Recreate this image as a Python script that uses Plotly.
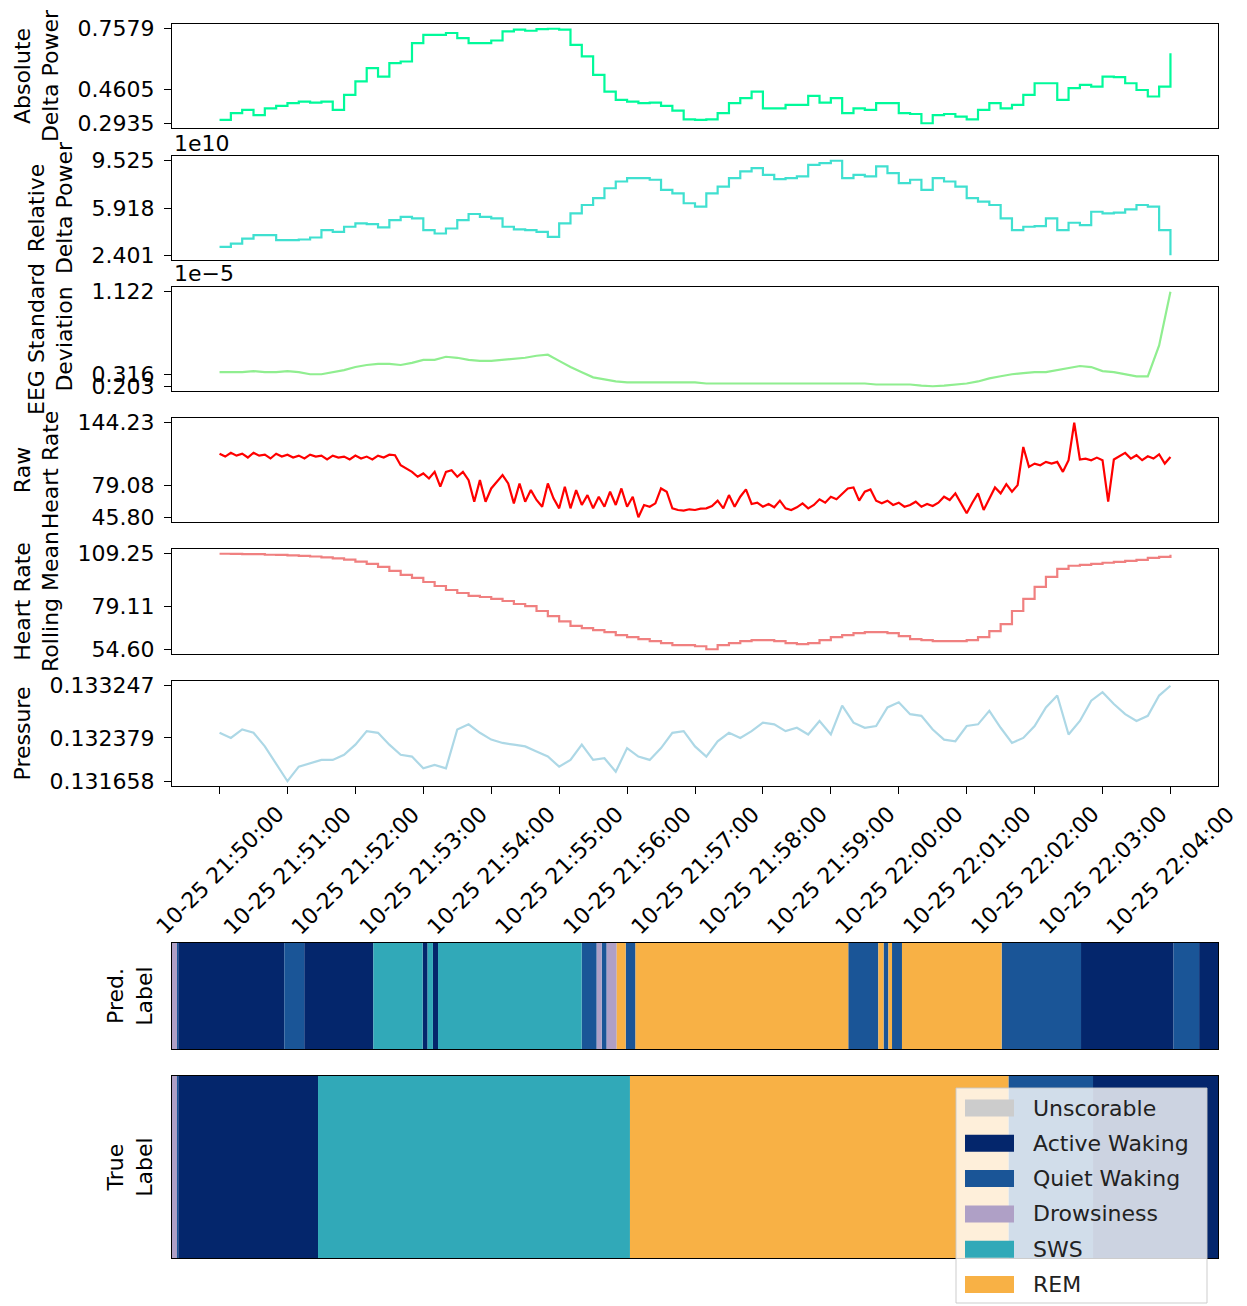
import pandas as pd
import plotly.graph_objects as go

# page body adds an 8px offset; figure is sized so that it ends at the window edge
OFF = 8
W, H = 1247 - OFF, 1306 - OFF
FONT = "DejaVu Sans"
FS = 22

# ---------------- data ----------------
t0 = pd.Timestamp("2023-10-25 21:50:00")
t10 = pd.date_range(t0, periods=85, freq="10s")
t5 = pd.date_range(t0, periods=169, freq="5s")

abs_delta = [0.310, 0.343, 0.359, 0.334, 0.367, 0.379, 0.392, 0.400, 0.395, 0.400,
             0.359, 0.433, 0.499, 0.564, 0.523, 0.589, 0.597, 0.687, 0.728, 0.728,
             0.737, 0.712, 0.687, 0.687, 0.700, 0.745, 0.753, 0.748, 0.756, 0.7579,
             0.753, 0.679, 0.622, 0.531, 0.449, 0.408, 0.400, 0.392, 0.395, 0.379,
             0.356, 0.313, 0.310, 0.313, 0.343, 0.392, 0.417, 0.449, 0.367, 0.367,
             0.384, 0.384, 0.428, 0.395, 0.417, 0.343, 0.367, 0.359, 0.392, 0.392,
             0.343, 0.339, 0.2935, 0.334, 0.339, 0.326, 0.313, 0.359, 0.392, 0.367,
             0.384, 0.433, 0.490, 0.490, 0.408, 0.466, 0.482, 0.474, 0.523, 0.520,
             0.490, 0.457, 0.425, 0.474, 0.638]

rel_delta_1e10 = [3.03, 3.28, 3.66, 3.92, 3.92, 3.54, 3.54, 3.59, 3.74, 4.30,
                  4.17, 4.55, 4.80, 4.75, 4.50, 5.05, 5.30, 5.18, 4.30, 4.04,
                  4.42, 5.05, 5.51, 5.30, 5.18, 4.55, 4.35, 4.30, 4.17, 3.79,
                  4.80, 5.56, 6.19, 6.70, 7.45, 7.96, 8.21, 8.21, 8.09, 7.33,
                  7.07, 6.32, 6.06, 7.07, 7.58, 8.21, 8.72, 8.97, 8.46, 8.14,
                  8.21, 8.34, 9.22, 9.35, 9.525, 8.21, 8.46, 8.34, 9.10, 8.59,
                  7.83, 8.09, 7.33, 8.21, 7.96, 7.58, 6.70, 6.44, 6.19, 5.18,
                  4.30, 4.55, 4.60, 5.18, 4.30, 4.85, 4.68, 5.68, 5.56, 5.61,
                  5.86, 6.19, 6.06, 4.30, 2.401]

eeg_sd_1e5 = [0.34, 0.34, 0.34, 0.35, 0.34, 0.34, 0.35, 0.34, 0.32, 0.32,
              0.34, 0.36, 0.39, 0.41, 0.42, 0.42, 0.41, 0.43, 0.46, 0.46,
              0.49, 0.48, 0.46, 0.45, 0.45, 0.46, 0.47, 0.48, 0.50, 0.51,
              0.45, 0.39, 0.34, 0.29, 0.27, 0.25, 0.24, 0.24, 0.24, 0.24,
              0.24, 0.24, 0.24, 0.23, 0.23, 0.23, 0.23, 0.23, 0.23, 0.23,
              0.23, 0.23, 0.23, 0.23, 0.23, 0.23, 0.23, 0.23, 0.22, 0.22,
              0.22, 0.22, 0.21, 0.203, 0.21, 0.22, 0.23, 0.25, 0.28, 0.30,
              0.32, 0.33, 0.34, 0.34, 0.36, 0.38, 0.40, 0.39, 0.35, 0.34,
              0.32, 0.30, 0.30, 0.60, 1.122]

raw_hr = [112, 109, 113, 110, 112, 108, 113, 110, 111, 107,
          112, 109, 111, 108, 110, 107, 111, 109, 110, 106,
          110, 108, 109, 106, 110, 107, 109, 106, 110, 108, 111,
          110.4, 100.0, 96.5, 93.1, 88.0, 91.4, 86.2, 93.1, 77.6, 93.1,
          94.8, 88.0, 93.1, 84.5, 62.0, 84.5, 62.0, 75.8, 82.7, 89.7,
          81.0, 60.3, 81.0, 62.0, 74.1, 63.8, 56.8, 81.0, 65.5, 55.1,
          77.6, 55.1, 74.1, 58.6, 68.9, 55.1, 67.2, 56.8, 72.4, 58.6,
          75.8, 56.8, 67.2, 45.80, 58.6, 56.8, 60.3, 75.8, 72.4, 55.1,
          53.4, 52.7, 54.1, 53.4, 54.8, 55.1, 57.5, 63.1, 55.1, 68.9,
          56.8, 67.2, 74.8, 59.6, 61.0, 56.8, 59.6, 56.2, 63.1, 55.1,
          53.4, 56.2, 60.3, 55.1, 58.6, 64.5, 61.0, 67.2, 64.5, 70.7,
          75.8, 76.9, 63.1, 72.4, 74.8, 63.1, 60.3, 63.1, 58.6, 61.0,
          56.8, 58.6, 62.0, 56.8, 59.6, 57.5, 61.0, 67.2, 63.8, 70.7,
          59.6, 49.9, 61.0, 70.7, 53.4, 65.5, 76.9, 70.7, 80.3, 72.4,
          79.3, 119.0, 98.3, 101.7, 100.0, 103.5, 101.7, 103.5, 93.1, 105.2,
          144.23, 105.9, 106.9, 105.2, 107.9, 105.2, 62.0, 105.9, 109.3, 112.8,
          106.9, 110.4, 105.2, 109.3, 106.9, 111.4, 101.7, 108.6]

hr_mean = [109.25, 109.2, 109.1, 109.0, 108.7, 108.6, 108.3, 108.1, 107.7, 107.2,
           106.6, 105.9, 104.8, 103.5, 101.7, 99.5, 97.2, 95.4, 93.1, 90.8,
           88.5, 86.8, 85.1, 84.5, 83.4, 82.2, 80.5, 79.3, 76.5, 73.5,
           70.5, 68.0, 66.7, 65.5, 64.4, 62.7, 61.5, 60.4, 59.2, 58.1,
           56.9, 56.9, 56.3, 54.60, 56.9, 58.1, 59.2, 59.8, 59.8, 59.2,
           58.1, 57.5, 58.1, 59.8, 61.5, 62.7, 63.8, 64.4, 64.4, 63.8,
           62.1, 60.4, 59.8, 59.2, 59.2, 59.2, 59.8, 61.5, 65.0, 69.0,
           76.5, 83.4, 90.3, 96.0, 100.6, 102.4, 102.9, 103.5, 104.1, 104.6,
           105.2, 105.8, 106.9, 107.5, 108.7]

pressure = [0.132464, 0.132379, 0.132520, 0.132464, 0.132238, 0.131957, 0.131658, 0.131900, 0.131957, 0.132013,
            0.132013, 0.132098, 0.132267, 0.132492, 0.132464, 0.132267, 0.132098, 0.132069, 0.131872, 0.131929,
            0.131872, 0.132520, 0.132605, 0.132464, 0.132351, 0.132295, 0.132267, 0.132238, 0.132154, 0.132069,
            0.131900, 0.132013, 0.132267, 0.132013, 0.132041, 0.131816, 0.132210, 0.132069, 0.132013, 0.132210,
            0.132464, 0.132492, 0.132238, 0.132069, 0.132323, 0.132464, 0.132379, 0.132492, 0.132633, 0.132605,
            0.132492, 0.132548, 0.132436, 0.132661, 0.132436, 0.132915, 0.132633, 0.132548, 0.132577, 0.132887,
            0.132971, 0.132774, 0.132746, 0.132520, 0.132351, 0.132323, 0.132577, 0.132605, 0.132830, 0.132548,
            0.132295, 0.132379, 0.132577, 0.132887, 0.133084, 0.132436, 0.132661, 0.132999, 0.133140, 0.132943,
            0.132774, 0.132661, 0.132746, 0.133084, 0.133247]

# y tick labels (min / middle / max)
abs_ticks = ["0.2935", "0.4605", "0.7579"]
rel_ticks = ["2.401", "5.918", "9.525"]
eeg_ticks = ["0.203", "0.316", "1.122"]
raw_ticks = ["45.80", "79.08", "144.23"]
mean_ticks = ["54.60", "79.11", "109.25"]
pres_ticks = ["0.131658", "0.132379", "0.133247"]

# sleep stage labels: segment stage and start (seconds from 21:50:00)
stage_names = ["Unscorable", "Active Waking", "Quiet Waking", "Drowsiness", "SWS", "REM"]
stage_colors = ["#cccccc", "#04266c", "#1a5597", "#afa0c6", "#31a9b8", "#f8b145"]

pred_stage = ["Drowsiness", "Quiet Waking", "Active Waking", "Quiet Waking", "Active Waking", "SWS",
              "Active Waking", "SWS", "Active Waking", "SWS", "Quiet Waking", "Drowsiness",
              "Quiet Waking", "Drowsiness", "REM", "Quiet Waking", "REM", "Quiet Waking", "REM",
              "Quiet Waking", "REM", "Quiet Waking", "REM", "Quiet Waking", "Active Waking",
              "Quiet Waking", "Active Waking"]
pred_start = [-42.4, -38.0, -36.9, 56.9, 74.5, 135.6, 179.2, 183.6, 188.3, 192.8, 319.8, 333.1,
              337.5, 341.9, 350.8, 358.7, 367.4, 555.5, 582.1, 586.7, 591.0, 594.2, 603.0, 691.1,
              761.3, 843.1, 865.7]
true_stage = ["Drowsiness", "Quiet Waking", "Active Waking", "SWS", "REM", "Quiet Waking", "Active Waking"]
true_start = [-42.4, -38.0, -36.9, 86.7, 362.5, 697.1, 771.9]
label_end = 882.4

# ---------------- layout helpers (target pixel -> paper) ----------------
def fx(p):
    return (p - OFF) / W


def fy(p):
    return 1 - (p - OFF) / H


XDOM = [fx(172), fx(1218)]
panels = [
    ("Absolute<br>Delta Power", t10, abs_delta, abs_ticks, "mediumspringgreen", "hv", (24, 128)),
    ("Relative<br>Delta Power", t10, rel_delta_1e10, rel_ticks, "turquoise", "hv", (156, 260)),
    ("EEG Standard<br>Deviation", t10, eeg_sd_1e5, eeg_ticks, "lightgreen", "linear", (287, 391)),
    ("Raw<br>Heart Rate", t5, raw_hr, raw_ticks, "red", "linear", (418, 522)),
    ("Heart Rate<br>Rolling Mean", t10, hr_mean, mean_ticks, "lightcoral", "hv", (549, 654)),
    ("Pressure", t10, pressure, pres_ticks, "lightblue", "linear", (681, 786)),
]

t_start, t_end = t10[0], t10[-1]
pad = (t_end - t_start) * 0.05
xrange = [t_start - pad, t_end + pad]

fig = go.Figure()
layout = dict(
    width=W, height=H, margin=dict(l=0, r=0, t=0, b=0, autoexpand=False),
    paper_bgcolor="white", plot_bgcolor="white",
    font=dict(family=FONT, size=FS, color="black"),
    showlegend=False, barmode="overlay",
)

axis_common = dict(showline=True, mirror=True, linecolor="black", linewidth=1.3,
                   showgrid=False, zeroline=False, automargin=False)

for i, (title, tt, vals, ticks, color, shape, (top, bot)) in enumerate(panels, start=1):
    fig.add_trace(go.Scatter(x=tt, y=vals, mode="lines", line=dict(color=color, width=2.2, shape=shape),
                             xaxis=f"x{i}", yaxis=f"y{i}", hoverinfo="skip"))
    tv = [float(v) for v in ticks]
    span = tv[-1] - tv[0]
    xa = dict(axis_common, domain=XDOM, range=xrange, type="date", anchor=f"y{i}",
              showticklabels=False, ticks="")
    if i == 6:
        xa.update(ticks="outside", ticklen=7, tickwidth=1.3, tickcolor="black",
                  tickvals=pd.date_range(t_start, t_end, freq="60s"))
    else:
        xa.update(matches="x6")
    ya = dict(axis_common, domain=[fy(bot), fy(top)], anchor=f"x{i}",
              range=[tv[0] - 0.05 * span, tv[-1] + 0.05 * span],
              tickvals=tv, ticktext=ticks, ticks="outside", ticklen=7, tickwidth=1.3,
              tickcolor="black", ticklabelstandoff=5,
              title=dict(text=title, standoff=12, font=dict(size=FS)))
    layout[f"xaxis{i}"] = xa
    layout[f"yaxis{i}"] = ya

# label bars
color_of = dict(zip(stage_names, stage_colors))
for i, (title, stages, starts, (top, bot)) in enumerate(
        [("Pred.<br>Label", pred_stage, pred_start, (943, 1049)),
         ("True<br>Label", true_stage, true_start, (1076, 1258))], start=7):
    ends = starts[1:] + [label_end]
    for name in stage_names:
        idx = [k for k, s in enumerate(stages) if s == name]
        if not idx:
            continue
        fig.add_trace(go.Bar(
            y=[0] * len(idx), base=[starts[k] for k in idx],
            x=[ends[k] - starts[k] for k in idx], orientation="h", width=1,
            marker=dict(color=color_of[name], line=dict(width=0)),
            xaxis=f"x{i}", yaxis=f"y{i}", hoverinfo="skip"))
    layout[f"xaxis{i}"] = dict(axis_common, domain=XDOM, range=[pred_start[0], label_end],
                               anchor=f"y{i}", showticklabels=False, ticks="")
    layout[f"yaxis{i}"] = dict(axis_common, domain=[fy(bot), fy(top)], range=[-0.5, 0.5],
                               anchor=f"x{i}", showticklabels=False, ticks="",
                               title=dict(text=title, standoff=12, font=dict(size=FS)))

annotations = []
# offset (scientific) labels
annotations.append(dict(text="1e10", x=fx(172), y=fy(143), xref="paper", yref="paper",
                        xanchor="left", yanchor="middle", showarrow=False, font=dict(size=FS)))
annotations.append(dict(text="1e\u22125", x=fx(172), y=fy(274), xref="paper", yref="paper",
                        xanchor="left", yanchor="middle", showarrow=False, font=dict(size=FS)))
# rotated x tick labels
for tt in pd.date_range(t_start, t_end, freq="60s"):
    annotations.append(dict(text=tt.strftime("%m-%d %H:%M:%S"), x=tt, xref="x6",
                            y=fy(870), yref="paper", textangle=-45, xanchor="center",
                            yanchor="middle", showarrow=False, font=dict(size=FS)))

# legend box (drawn)
shapes = [dict(type="rect", xref="paper", yref="paper", x0=fx(956), x1=fx(1207),
               y0=fy(1303), y1=fy(1088), fillcolor="rgba(255,255,255,0.8)",
               line=dict(color="rgba(200,200,200,0.9)", width=1), layer="above")]
for k, (name, col) in enumerate(zip(stage_names, stage_colors)):
    cy = 1108 + 35.3 * k
    shapes.append(dict(type="rect", xref="paper", yref="paper", x0=fx(965), x1=fx(1014),
                       y0=fy(cy + 8.5), y1=fy(cy - 8.5), fillcolor=col,
                       line=dict(width=0), layer="above"))
    annotations.append(dict(text=name, x=fx(1031), y=fy(cy), xref="paper", yref="paper",
                            xanchor="left", yanchor="middle", showarrow=False,
                            font=dict(size=FS, color="#222222")))

layout["annotations"] = annotations
layout["shapes"] = shapes
fig.update_layout(**layout)
fig.write_html("out.html")
